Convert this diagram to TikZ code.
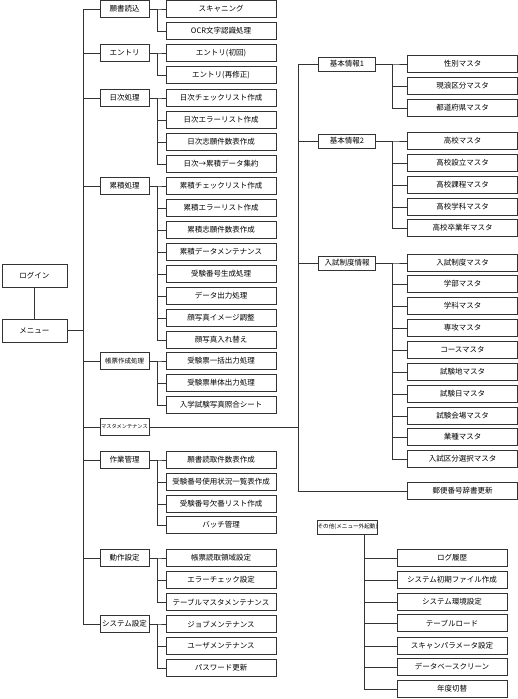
\documentclass[tikz,border=0pt]{standalone}
\usepackage{fontspec}
\newfontfamily\jpfont{Noto Sans CJK JP}
\begin{document}
\begin{tikzpicture}[x=1pt,y=-1pt,
    every node/.style={font=\jpfont\fontsize{7.5}{8}\selectfont},
    box/.style={draw=black!80,line width=0.8pt,inner sep=0pt,minimum height=17pt},
    grp/.style={box,minimum width=49pt},
    rgrp/.style={box,minimum width=57pt,minimum height=14pt},
    leaf/.style={box,minimum width=110pt},
    wire/.style={draw=black!80,line width=0.8pt}]
  \useasboundingbox (0,0) rectangle (518,699);

  % start
  \node[box,minimum width=65pt,minimum height=23pt] (login) at (34.5,275.5) {ログイン};
  \node[box,minimum width=65pt,minimum height=23pt] (menu) at (34.5,330.5) {メニュー};
  \draw[wire] (login) -- (menu);

  % menu groups
  \foreach \n/\y/\t in {g1/9/願書読込, g2/53/エントリ, g3/98/日次処理, g4/186/累積処理,
      g7/460/作業管理, g8/558/動作設定, g9/624/システム設定}
    \node[grp] (\n) at (124.5,\y) {\t};
  \node[grp,font=\jpfont\fontsize{6.5}{7}\selectfont] (g5) at (124.5,361) {帳票作成処理};
  \node[grp,font=\jpfont\fontsize{5.2}{6}\selectfont] (g6) at (124.5,427) {マスタメンテナンス};
  \foreach \n in {g1,g2,g3,g4,g5,g6,g7,g8,g9}
    \draw[wire] (menu.east) -- ++(16,0) |- (\n.west);

  % menu items
  \foreach \y/\t [count=\i] in {9/スキャニング, 31/OCR文字認識処理, 53/エントリ(初回), 75/エントリ(再修正),
      98/日次チェックリスト作成, 120/日次エラーリスト作成, 142/日次志願件数表作成, 164/日次→累積データ集約,
      186/累積チェックリスト作成, 208/累積エラーリスト作成, 230/累積志願件数表作成, 252/累積データメンテナンス,
      274/受験番号生成処理, 296/データ出力処理, 318/顔写真イメージ調整, 340/顔写真入れ替え,
      361/受験票一括出力処理, 383/受験票単体出力処理, 405/入学試験写真照合シート,
      460/願書読取件数表作成, 482/受験番号使用状況一覧表作成, 504/受験番号欠番リスト作成, 525/バッチ管理,
      558/帳票読取領域設定, 580/エラーチェック設定, 602/テーブルマスタメンテナンス,
      624/ジョブメンテナンス, 646/ユーザメンテナンス, 668/パスワード更新}
    \node[leaf] (m\i) at (221,\y) {\t};
  \foreach \n/\a/\b in {g1/1/2, g2/3/4, g3/5/8, g4/9/16, g5/17/19, g7/20/23, g8/24/26, g9/27/29}
    \foreach \k in {\a,...,\b}
      \draw[wire] (\n.east) -- ++(8,0) |- (m\k.west);

  % master maintenance
  \foreach \n/\y/\t in {k1/64/基本情報1, k2/141/基本情報2, k3/263/入試制度情報}
    \node[rgrp] (\n) at (347,\y) {\t};
  \foreach \y/\t [count=\i] in {64/性別マスタ, 86/現浪区分マスタ, 108/都道府県マスタ,
      141/高校マスタ, 163/高校設立マスタ, 185/高校課程マスタ, 207/高校学科マスタ, 228/高校卒業年マスタ,
      263/入試制度マスタ, 284/学部マスタ, 306/学科マスタ, 328/専攻マスタ, 350/コースマスタ,
      372/試験地マスタ, 394/試験日マスタ, 416/試験会場マスタ, 437/業種マスタ, 459/入試区分選択マスタ,
      491/郵便番号辞書更新}
    \node[leaf] (r\i) at (462.5,\y) {\t};
  \foreach \n in {k1,k2,k3,r19}
    \draw[wire] (g6.east) -- ++(149,0) |- (\n.west);
  \foreach \n/\a/\b in {k1/1/3, k2/4/8, k3/9/18}
    \foreach \k in {\a,...,\b}
      \draw[wire] (\n.east) -- ++(16.5,0) |- (r\k.west);

  % outside menu
  \node[rgrp,font=\jpfont\fontsize{5.6}{6}\selectfont] (oth) at (347.5,527) {その他(メニュー外起動)};
  \foreach \y/\t [count=\i] in {558/ログ履歴, 580/システム初期ファイル作成, 602/システム環境設定,
      623/テーブルロード, 646/スキャンパラメータ設定, 667/データベースクリーン, 689/年度切替}
    \node[leaf] (o\i) at (452,\y) {\t};
  \foreach \k in {1,...,7}
    \draw[wire] ([xshift=16.5]oth.south) |- (o\k.west);
\end{tikzpicture}
\end{document}
